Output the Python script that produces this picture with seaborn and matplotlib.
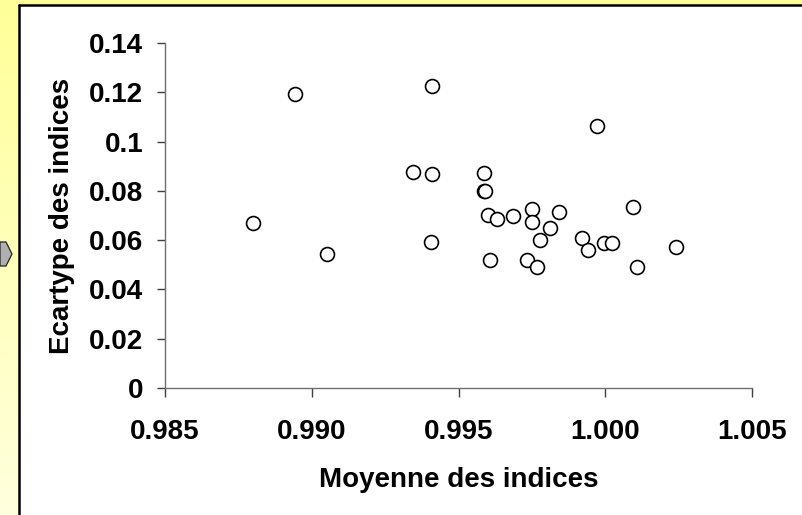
import numpy as np
import pandas as pd
import matplotlib
matplotlib.use("Agg")
import matplotlib.pyplot as plt
from matplotlib.patches import Polygon, Rectangle
from matplotlib.lines import Line2D
import seaborn as sns

# values
moyenne = [0.98800, 0.98942, 0.99052, 0.99411, 0.99346, 0.99411, 0.99406,
           0.99586, 0.99588, 0.99590, 0.99600, 0.99631, 0.99687, 0.99751,
           0.99751, 0.99842, 0.99812, 0.99777, 0.99606, 0.99732, 0.99767,
           0.99972, 0.99922, 0.99942, 0.99996, 1.00022, 1.00096, 1.00107,
           1.00242]
ecartype = [0.0670, 0.1192, 0.0544, 0.1227, 0.0875, 0.0870, 0.0592,
            0.0871, 0.0801, 0.0801, 0.0703, 0.0686, 0.0698, 0.0728,
            0.0672, 0.0716, 0.0651, 0.0602, 0.0518, 0.0518, 0.0490,
            0.1062, 0.0609, 0.0560, 0.0590, 0.0590, 0.0735, 0.0490,
            0.0573]
x_ticks = [0.985, 0.990, 0.995, 1.000, 1.005]
y_ticks = [0, 0.02, 0.04, 0.06, 0.08, 0.10, 0.12, 0.14]

df = pd.DataFrame({"Moyenne des indices": moyenne, "Ecartype des indices": ecartype})

sns.set_style("white", {"xtick.bottom": True, "ytick.left": True,
                        "text.color": "black", "axes.labelcolor": "black",
                        "xtick.color": "black", "ytick.color": "black"})
plt.rcParams["font.family"] = ["Liberation Sans", "DejaVu Sans"]
plt.rcParams["font.weight"] = "bold"

W, H = 803, 515
fig = plt.figure(figsize=(W / 100, H / 100), dpi=100)

# slide background: yellow gradient, white chart area, black border
bg = fig.add_axes([0, 0, 1, 1], zorder=-10)
grad = np.linspace(0, 1, 256).reshape(-1, 1)
cmap = matplotlib.colors.LinearSegmentedColormap.from_list("y", ["#ffff99", "#ffffdd"])
bg.imshow(grad, aspect="auto", cmap=cmap, extent=[0, 1, 0, 1])
bg.add_patch(Rectangle((19 / W, 0), 1, 1 - 6 / H, facecolor="white", edgecolor="none"))
bg.add_line(Line2D([19 / W, 19 / W], [0, 1 - 5 / H], color="black", lw=1.8))
bg.add_line(Line2D([19 / W, 1], [1 - 5 / H, 1 - 5 / H], color="black", lw=1.8))
arrow = [(0, 242), (6, 242), (12, 254), (6, 266), (0, 266)]
bg.add_patch(Polygon([(px / W, 1 - py / H) for px, py in arrow], closed=True,
                     facecolor="#b0b0b0", edgecolor="#222222", lw=0.9))
bg.set_xlim(0, 1)
bg.set_ylim(0, 1)
bg.axis("off")

ax = fig.add_axes([165 / W, 1 - 388 / H, (752 - 165) / W, (388 - 43) / H])
ax.set_facecolor("none")
sns.scatterplot(data=df, x="Moyenne des indices", y="Ecartype des indices", ax=ax,
                s=100, facecolor="white", edgecolor="black", linewidth=1.2,
                clip_on=False, zorder=3)

ax.set_xlim(0.985, 1.005)
ax.set_ylim(0, 0.14)
ax.set_xticks(x_ticks)
ax.set_yticks(y_ticks)
ax.set_xticklabels([f"{v:.3f}" for v in x_ticks])
ax.set_yticklabels([f"{v:g}" for v in y_ticks])

for side in ["top", "right"]:
    ax.spines[side].set_visible(False)
for side in ["left", "bottom"]:
    ax.spines[side].set_color("#707070")
    ax.spines[side].set_linewidth(1.0)
ax.tick_params(axis="x", direction="out", length=6.5, width=1, color="#404040",
               labelsize=20, pad=16, labelcolor="black")
ax.tick_params(axis="y", direction="out", length=5.8, width=1, color="#404040",
               labelsize=20, pad=10, labelcolor="black")
for lab in ax.get_xticklabels() + ax.get_yticklabels():
    lab.set_fontweight("bold")

ax.set_xlabel("Moyenne des indices", fontsize=20, fontweight="bold", labelpad=16,
              color="black")
ax.set_ylabel("Ecartype des indices", fontsize=20, fontweight="bold", labelpad=10,
              color="black")

fig.savefig("out.png", dpi=100)
